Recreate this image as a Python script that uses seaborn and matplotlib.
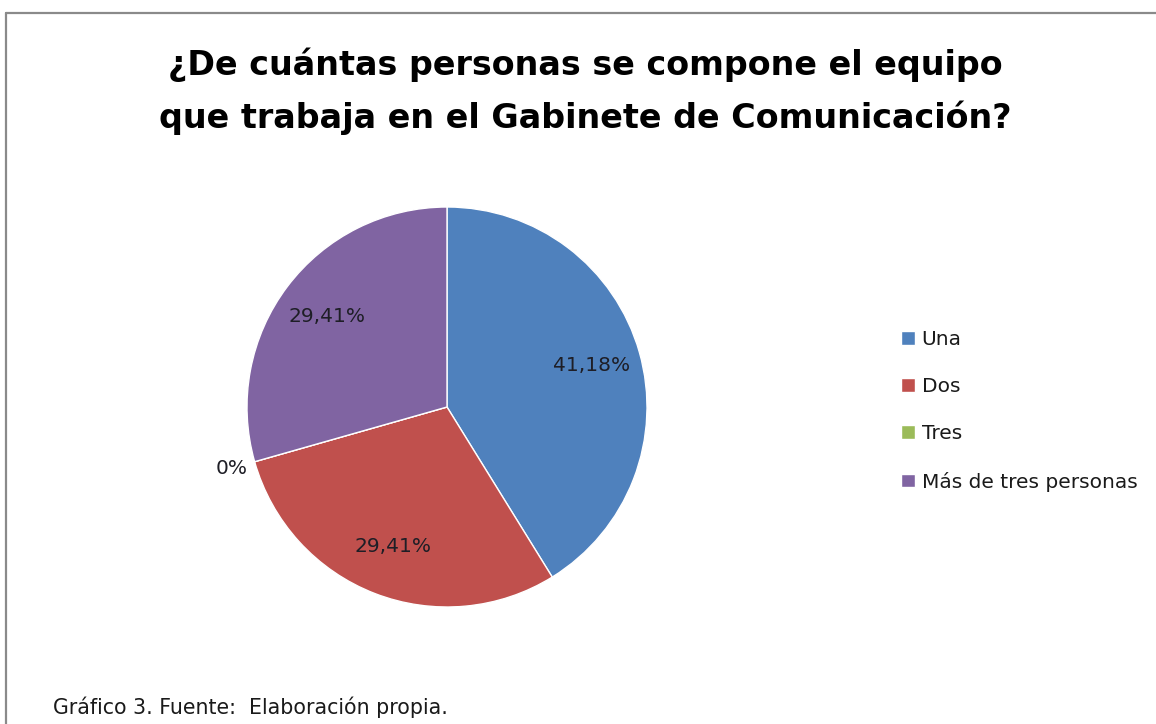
import matplotlib
matplotlib.use("Agg")
import matplotlib.pyplot as plt
from matplotlib.lines import Line2D
import numpy as np
import seaborn as sns

# Survey answers: size of the communication office team
categories = ["Una", "Dos", "Tres", "Más de tres personas"]
shares = [41.18, 29.41, 0.0, 29.41]
colors = ["#4F81BD", "#C0504D", "#9BBB59", "#8064A2"]

title_lines = ["¿De cuántas personas se compone el equipo",
               "que trabaja en el Gabinete de Comunicación?"]
caption_text = "Gráfico 3. Fuente:  Elaboración propia."

sns.set_theme(style="white")
plt.rcParams["font.family"] = ["DejaVu Sans"]

W, H = 1156, 724
fig = plt.figure(figsize=(W / 100, H / 100), dpi=100)
fig.patch.set_facecolor("white")

# pie axes: centre at (447, 407) px, radius 200 px
cx, cy, r = 447, 407, 200
ax = fig.add_axes([(cx - r) / W, (H - cy - r) / H, 2 * r / W, 2 * r / H])
wedges, _ = ax.pie(shares, colors=colors, startangle=90, counterclock=False,
                   radius=1.0, wedgeprops=dict(edgecolor="white", linewidth=1.0))
ax.set_xlim(-1, 1)
ax.set_ylim(-1, 1)
ax.set_aspect("equal")
ax.axis("off")


def fmt(v):
    if v == 0:
        return "0%"
    return f"{v:.2f}".replace(".", ",") + "%"


# percentage labels at each wedge's mid-angle; empty slices get theirs outside
for w, v in zip(wedges, shares):
    mid = np.deg2rad((w.theta1 + w.theta2) / 2)
    dist = 0.75 if v > 0 else 1.12
    ax.text(dist * np.cos(mid), dist * np.sin(mid), fmt(v),
            ha="center", va="center", fontsize=14.5, color="#1e1e26")

for line, base in zip(title_lines, [75, 128]):
    fig.text(0.5 * (160 + 1011) / W, 1 - base / H, line, ha="center",
             va="baseline", fontsize=24, fontweight="bold", color="black")

leg = fig.legend(wedges, categories, loc="upper left",
                 bbox_to_anchor=(901 / W, 1 - 330 / H), frameon=False,
                 handlelength=0.68, handleheight=0.68, handletextpad=0.34,
                 labelspacing=1.4, borderaxespad=0, borderpad=0,
                 prop=dict(size=14.5))
for t in leg.get_texts():
    t.set_color("#1a1a1a")

fig.text(53 / W, 1 - 707 / H, caption_text, ha="left", va="center",
         fontsize=14.8, color="#1a1a1a")

# outer frame (top and left edges visible)
fig.add_artist(Line2D([6 / W, 1.0], [1 - 12.5 / H, 1 - 12.5 / H],
                      transform=fig.transFigure, color="#8a8a8a", lw=1.6))
fig.add_artist(Line2D([6 / W, 6 / W], [0.0, 1 - 12.5 / H],
                      transform=fig.transFigure, color="#8a8a8a", lw=1.6))

fig.savefig("out.png", dpi=100, facecolor="white")
